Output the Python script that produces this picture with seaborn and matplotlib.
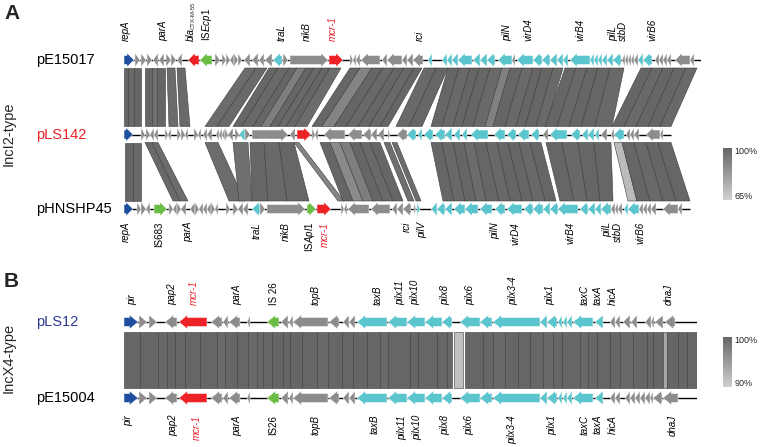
import numpy as np
import matplotlib
matplotlib.use("Agg")
import matplotlib.pyplot as plt
import seaborn as sns
from matplotlib.patches import Polygon
from matplotlib.collections import PolyCollection
from matplotlib.colors import Normalize
from matplotlib.transforms import blended_transform_factory

sns.set_theme(style="white")
plt.rcParams["font.family"] = ["Liberation Sans", "DejaVu Sans"]
plt.rcParams["mathtext.fontset"] = "custom"
plt.rcParams["mathtext.rm"] = "Liberation Sans"
plt.rcParams["mathtext.it"] = "Liberation Sans:italic"

# ---------------- data (positions in kb) ----------------
# genes: (start, end, strand, class)
pE15017_len = 57.7
pE15017_genes = [
    (0.0, 1.0, 1, "rep"), (1.1, 1.6, 1, "grey"), (1.7, 2.2, 1, "grey"), (2.3, 2.8, 1, "grey"),
    (2.9, 3.4, -1, "grey"), (3.5, 4.0, -1, "grey"), (4.2, 4.7, 1, "grey"), (4.7, 5.2, 1, "grey"),
    (5.3, 5.8, -1, "grey"), (6.4, 7.5, -1, "res"), (7.6, 8.8, -1, "is"), (9.1, 9.6, 1, "grey"),
    (9.8, 10.2, 1, "grey"), (10.2, 10.6, 1, "grey"), (10.6, 11.0, -1, "grey"), (11.0, 11.4, 1, "grey"),
    (11.4, 11.8, 1, "grey"), (12.0, 12.6, -1, "grey"), (12.8, 13.4, -1, "grey"), (13.5, 14.0, -1, "grey"),
    (14.1, 14.8, -1, "grey"), (14.9, 15.8, -1, "tra"), (15.9, 16.4, 1, "grey"), (16.6, 20.4, 1, "grey"),
    (20.5, 21.9, 1, "res"), (22.6, 22.9, 1, "grey"), (22.9, 23.2, -1, "grey"), (23.2, 23.6, -1, "grey"),
    (23.7, 25.6, -1, "grey"), (25.8, 26.3, -1, "grey"), (26.3, 27.8, -1, "grey"), (27.8, 28.3, -1, "grey"),
    (28.3, 28.9, -1, "grey"), (28.9, 29.9, -1, "grey"), (30.4, 30.8, -1, "tra"),
    (31.8, 32.3, -1, "tra"), (32.3, 32.8, -1, "tra"), (32.8, 33.4, -1, "tra"), (33.4, 34.8, -1, "tra"),
    (34.9, 35.6, -1, "tra"), (35.6, 36.3, -1, "tra"), (36.3, 37.1, -1, "tra"), (37.4, 38.8, -1, "tra"),
    (38.8, 39.1, -1, "grey"), (39.3, 40.9, -1, "tra"), (40.9, 41.8, -1, "tra"), (41.8, 42.6, -1, "tra"),
    (42.6, 43.3, -1, "tra"), (43.3, 43.9, -1, "tra"), (43.9, 44.4, -1, "tra"), (44.6, 46.6, -1, "tra"),
    (46.6, 47.0, -1, "tra"), (47.0, 47.4, -1, "tra"), (47.4, 47.8, -1, "tra"), (47.8, 48.3, -1, "tra"),
    (48.3, 48.9, -1, "tra"), (48.9, 49.7, -1, "tra"), (49.8, 50.1, -1, "grey"), (50.1, 50.4, -1, "grey"),
    (50.4, 50.7, -1, "grey"), (50.7, 51.0, -1, "grey"), (51.0, 51.4, -1, "grey"), (51.4, 51.9, -1, "tra"),
    (51.9, 52.8, -1, "tra"), (53.1, 53.5, -1, "grey"), (53.5, 53.9, -1, "grey"), (53.9, 54.3, -1, "grey"),
    (54.3, 54.7, -1, "grey"), (55.1, 56.6, -1, "grey"), (56.6, 57.0, -1, "grey"),
]

pLS142_len = 54.7
pLS142_genes = [
    (0.0, 0.9, 1, "rep"), (1.7, 2.1, 1, "grey"), (2.2, 2.6, 1, "grey"), (2.6, 3.0, -1, "grey"),
    (3.0, 3.4, -1, "grey"), (4.1, 4.4, 1, "grey"), (4.4, 4.7, -1, "grey"), (5.3, 5.7, 1, "grey"),
    (5.7, 6.1, 1, "grey"), (6.1, 6.4, -1, "grey"), (7.0, 7.4, 1, "grey"), (7.4, 7.7, -1, "grey"),
    (7.9, 8.3, -1, "grey"), (8.3, 8.8, -1, "grey"), (9.2, 9.5, -1, "grey"), (9.5, 9.8, -1, "grey"),
    (9.8, 10.1, -1, "grey"), (10.1, 10.4, 1, "grey"), (10.4, 10.9, -1, "grey"), (11.1, 11.5, 1, "grey"),
    (11.5, 12.1, -1, "tra"), (12.1, 12.6, 1, "grey"), (12.8, 16.4, 1, "grey"), (16.6, 17.1, -1, "grey"),
    (17.3, 18.7, 1, "res"), (18.8, 19.1, 1, "grey"), (19.1, 19.4, -1, "grey"), (20.0, 22.1, -1, "grey"),
    (22.4, 23.8, -1, "grey"), (23.9, 24.7, -1, "grey"), (24.7, 25.3, -1, "grey"), (25.4, 26.0, -1, "grey"),
    (26.4, 26.6, 1, "grey"), (27.3, 28.3, -1, "grey"), (28.3, 29.2, -1, "tra"), (29.4, 29.8, -1, "tra"),
    (30.0, 30.9, -1, "tra"), (31.1, 32.1, -1, "tra"), (32.1, 32.8, -1, "tra"), (33.0, 33.6, -1, "tra"),
    (33.8, 34.3, -1, "tra"), (34.7, 36.4, -1, "tra"), (37.0, 38.1, -1, "tra"), (38.3, 39.2, -1, "tra"),
    (39.4, 40.5, -1, "tra"), (40.7, 41.5, -1, "tra"), (41.9, 42.4, -1, "grey"), (42.6, 44.3, -1, "tra"),
    (44.7, 45.6, -1, "tra"), (45.8, 46.4, -1, "tra"), (46.4, 47.0, -1, "tra"), (47.1, 47.5, -1, "tra"),
    (47.7, 48.3, -1, "grey"), (48.7, 49.0, -1, "grey"), (49.0, 50.0, -1, "tra"), (50.2, 50.6, -1, "grey"),
    (50.6, 51.0, -1, "grey"), (51.0, 51.5, -1, "grey"), (52.2, 53.6, -1, "grey"), (53.6, 53.9, -1, "grey"),
]

pHNSHP45_len = 56.6
pHNSHP45_genes = [
    (0.0, 0.9, 1, "rep"), (1.3, 1.7, 1, "grey"), (1.7, 2.2, 1, "grey"), (2.2, 2.6, -1, "grey"),
    (3.0, 4.3, 1, "is"), (4.5, 4.9, 1, "grey"), (4.9, 5.3, -1, "grey"), (5.3, 5.7, 1, "grey"),
    (5.7, 6.2, -1, "grey"), (6.6, 7.1, -1, "grey"), (7.1, 7.5, 1, "grey"), (7.5, 7.9, -1, "grey"),
    (7.9, 8.3, -1, "grey"), (8.3, 8.7, -1, "grey"), (8.7, 9.1, 1, "grey"), (9.1, 9.4, -1, "grey"),
    (10.2, 10.6, 1, "grey"), (10.9, 11.4, 1, "grey"), (11.4, 11.9, -1, "grey"), (11.9, 12.4, -1, "grey"),
    (12.8, 13.6, -1, "tra"), (13.6, 14.1, 1, "grey"), (14.3, 18.1, 1, "grey"), (18.3, 19.2, 1, "is"),
    (19.3, 20.7, 1, "res"), (21.7, 22.0, 1, "grey"), (22.0, 22.3, -1, "grey"), (22.4, 24.5, -1, "grey"),
    (24.7, 26.6, -1, "grey"), (26.8, 27.3, -1, "grey"), (27.3, 27.9, -1, "grey"), (27.9, 28.7, -1, "grey"),
    (29.0, 29.2, 1, "grey"), (29.3, 29.6, 1, "tra"), (30.7, 31.3, -1, "tra"), (31.3, 32.1, -1, "tra"),
    (32.1, 32.8, -1, "tra"), (33.0, 34.1, -1, "tra"), (34.1, 35.4, -1, "tra"), (35.6, 36.8, -1, "tra"),
    (37.1, 38.1, -1, "tra"), (38.3, 39.8, -1, "tra"), (40.0, 40.9, -1, "tra"), (40.9, 41.9, -1, "tra"),
    (41.9, 42.6, -1, "tra"), (42.6, 43.4, -1, "tra"), (43.4, 45.4, -1, "tra"), (45.6, 46.4, -1, "tra"),
    (46.4, 47.1, -1, "tra"), (47.1, 47.7, -1, "tra"), (47.7, 48.7, -1, "tra"), (48.7, 49.1, -1, "grey"),
    (49.1, 49.4, -1, "grey"), (49.4, 49.8, -1, "grey"), (50.0, 50.4, -1, "tra"), (50.4, 51.5, -1, "tra"),
    (51.5, 51.9, -1, "grey"), (51.9, 52.3, -1, "grey"), (52.3, 52.7, -1, "grey"), (52.7, 53.2, -1, "grey"),
    (53.9, 55.4, -1, "grey"), (55.4, 55.8, -1, "grey"),
]

# blast hits: (top start, top end, bottom start, bottom end, identity %)
hits_pE15017_pLS142 = [
    (0.0, 0.4, 0.0, 0.4, 100), (0.4, 1.0, 0.4, 1.0, 99), (1.0, 1.7, 1.0, 1.7, 100),
    (2.1, 2.8, 2.1, 2.8, 100), (2.8, 3.3, 2.8, 3.3, 97), (3.3, 4.1, 3.3, 4.1, 100),
    (4.3, 5.1, 4.5, 5.4, 98), (5.3, 6.1, 5.6, 6.6, 99),
    (12.1, 13.2, 8.1, 9.3, 98), (13.2, 14.3, 9.3, 10.5, 99),
    (14.5, 15.4, 10.9, 11.8, 100), (15.4, 16.5, 11.8, 12.9, 99), (16.5, 17.3, 12.9, 13.7, 100),
    (17.3, 18.2, 13.7, 14.6, 92), (18.2, 19.0, 14.6, 15.4, 100), (19.0, 19.8, 15.4, 16.2, 99),
    (19.8, 20.6, 16.2, 17.1, 100), (20.6, 21.7, 17.1, 18.3, 98),
    (22.6, 23.6, 18.8, 19.8, 100), (23.6, 24.8, 19.8, 21.0, 90), (24.8, 25.9, 21.0, 22.2, 100),
    (25.9, 27.0, 22.2, 23.4, 99), (27.0, 28.0, 23.4, 24.5, 100), (28.0, 29.0, 24.5, 25.6, 99),
    (29.0, 29.8, 25.6, 26.4, 100),
    (30.0, 31.2, 27.2, 28.5, 99), (31.2, 32.4, 28.5, 29.8, 100),
    (32.4, 33.5, 30.7, 31.8, 100), (33.5, 34.6, 31.8, 32.9, 99), (34.6, 35.5, 32.9, 33.8, 100),
    (35.5, 36.6, 33.8, 34.9, 100), (36.6, 37.8, 34.9, 36.1, 99), (37.8, 38.6, 36.1, 36.9, 91),
    (38.6, 39.8, 36.9, 38.1, 100), (39.8, 40.9, 38.1, 39.2, 99), (40.9, 41.8, 39.2, 40.1, 100),
    (41.8, 42.9, 40.1, 41.2, 100), (42.9, 43.9, 41.2, 42.2, 99),
    (44.1, 45.2, 42.1, 43.3, 100), (45.2, 46.3, 43.3, 44.5, 99), (46.3, 47.4, 44.5, 45.7, 100),
    (47.4, 48.6, 45.7, 47.1, 100), (48.6, 50.0, 47.1, 48.8, 99),
    (51.7, 52.8, 48.8, 50.0, 100), (52.8, 53.9, 50.0, 51.2, 99), (53.9, 55.0, 51.2, 52.4, 100),
    (55.0, 56.2, 52.4, 53.6, 100), (56.2, 57.3, 53.6, 54.7, 99),
]

hits_pLS142_pHNSHP45 = [
    (0.1, 0.9, 0.1, 0.9, 100), (0.9, 1.7, 0.9, 1.7, 99),
    (2.1, 2.8, 4.9, 5.6, 99), (2.8, 3.4, 5.6, 6.4, 98),
    (8.1, 9.4, 10.5, 12.1, 98), (10.9, 12.4, 11.5, 12.8, 97),
    (12.6, 14.0, 12.8, 14.4, 100), (14.0, 15.5, 14.4, 16.3, 99), (15.5, 17.0, 16.3, 18.5, 100),
    (17.0, 17.5, 21.4, 22.0, 90),
    (19.6, 20.6, 21.9, 22.9, 100), (20.6, 21.6, 22.9, 23.9, 88), (21.6, 22.6, 23.9, 24.9, 92),
    (22.6, 23.6, 24.9, 25.9, 100), (23.6, 24.6, 25.9, 26.9, 99), (24.6, 25.6, 26.9, 27.9, 100),
    (26.0, 26.6, 28.4, 29.0, 97), (26.8, 27.3, 29.2, 29.7, 98),
    (30.7, 31.8, 31.9, 33.0, 100), (31.8, 32.9, 33.0, 34.1, 99), (32.9, 34.0, 34.1, 35.2, 100),
    (34.0, 35.0, 35.2, 36.2, 98), (35.0, 36.2, 36.2, 37.5, 100), (36.2, 37.3, 37.5, 38.6, 99),
    (37.3, 38.4, 38.6, 39.8, 100), (38.4, 39.5, 39.8, 40.9, 100), (39.5, 40.6, 40.9, 42.1, 99),
    (40.6, 41.7, 42.1, 43.2, 100),
    (42.2, 43.8, 43.6, 45.0, 100), (43.8, 45.4, 45.0, 46.3, 99), (45.4, 47.0, 46.3, 47.6, 100),
    (47.0, 48.7, 47.6, 48.9, 100),
    (49.0, 49.8, 50.4, 51.3, 72),
    (49.8, 51.0, 51.3, 52.6, 100), (51.0, 52.2, 52.6, 53.9, 99), (52.2, 53.4, 53.9, 55.2, 100),
    (53.4, 54.7, 55.2, 56.6, 100),
]

# IncX4 plasmids
pLS12_len = 28.65
incx4_shared = [
    (0.0, 0.7, 1, "rep"), (0.75, 1.15, 1, "grey"), (1.25, 1.65, 1, "grey"), (2.05, 2.65, -1, "grey"),
    (2.75, 4.15, -1, "res"), (4.35, 4.9, -1, "grey"), (4.95, 5.2, -1, "grey"), (5.25, 5.8, -1, "grey"),
    (6.15, 6.3, -1, "grey"), (7.15, 7.75, -1, "is"), (7.85, 8.2, -1, "grey"), (8.25, 8.45, -1, "grey"),
    (8.45, 10.2, -1, "grey"), (10.25, 10.75, -1, "grey"), (10.95, 11.25, -1, "grey"), (11.25, 11.55, -1, "grey"),
    (11.65, 13.15, -1, "tra"), (13.2, 14.15, -1, "tra"), (14.15, 15.05, -1, "tra"), (15.05, 15.9, -1, "tra"),
    (15.9, 16.4, -1, "tra"), (16.8, 17.8, -1, "tra"), (17.8, 18.4, -1, "tra"), (18.45, 20.8, -1, "tra"),
    (20.8, 21.15, -1, "tra"), (21.15, 21.65, -1, "tra"), (21.7, 21.9, -1, "tra"), (21.95, 22.15, -1, "tra"),
    (22.15, 22.4, -1, "tra"), (22.45, 23.45, -1, "tra"), (23.55, 23.95, -1, "tra"),
]
pLS12_genes = incx4_shared + [
    (24.3, 24.55, -1, "grey"), (24.55, 24.8, -1, "grey"), (24.95, 25.3, -1, "grey"), (25.35, 25.65, -1, "grey"),
    (26.05, 26.35, -1, "grey"), (26.35, 26.5, -1, "grey"), (26.55, 26.95, -1, "grey"), (27.05, 27.55, -1, "grey"),
]
pE15004_len = 28.65
pE15004_genes = incx4_shared + [
    (24.3, 24.55, -1, "grey"), (24.55, 24.8, -1, "grey"), (25.05, 25.3, -1, "grey"), (25.3, 25.55, -1, "grey"),
    (25.55, 25.8, -1, "grey"), (25.8, 26.05, -1, "grey"), (26.05, 26.3, -1, "grey"), (26.3, 26.45, -1, "grey"),
    (26.45, 26.9, -1, "grey"), (26.95, 27.7, -1, "grey"),
]

# IncX4 hits are collinear: (start, end, identity %)
hits_pLS12_pE15004 = [
    (0.0, 0.8, 100), (0.8, 1.7, 100), (1.7, 2.15, 99.8), (2.15, 2.55, 100), (2.55, 3.05, 100),
    (3.05, 3.8, 100), (3.8, 4.65, 100), (4.65, 5.05, 99.7), (5.05, 5.65, 100), (5.65, 6.2, 100),
    (6.2, 6.65, 99.6), (6.65, 6.95, 99.8), (6.95, 7.4, 100), (7.4, 7.95, 100), (7.95, 8.3, 100),
    (8.3, 8.9, 100), (8.9, 9.65, 100), (9.65, 10.2, 99.8), (10.2, 10.9, 100), (10.9, 11.45, 100),
    (11.45, 12.15, 100), (12.15, 12.8, 100), (12.8, 13.2, 99.7), (13.2, 14.3, 100), (14.3, 14.7, 100),
    (14.7, 15.65, 100), (15.65, 16.15, 100), (16.15, 16.4, 99.8), (16.5, 16.95, 91.5),
    (17.05, 17.95, 100), (17.95, 18.45, 100), (18.45, 19.05, 99.8), (19.05, 19.7, 100), (19.7, 20.3, 100),
    (20.3, 20.95, 100), (20.95, 21.45, 99.7), (21.45, 21.9, 100), (21.9, 22.8, 100), (22.8, 23.2, 99.8),
    (23.2, 23.65, 100), (23.65, 24.3, 100), (24.3, 24.8, 100), (24.8, 25.45, 99.8), (25.45, 26.15, 100),
    (26.15, 26.45, 100), (26.45, 26.95, 100), (26.95, 27.15, 94), (27.15, 27.7, 100), (27.7, 28.15, 100),
    (28.15, 28.65, 100),
]

# gene labels: (name, position); "_" marks a subscript
labels_pE15017 = [
    ("repA", 0.2), ("parA", 3.9), ("bla_CTX-M-55", 6.7), (r"IS$\mathit{Ecp1}$", 8.3),
    ("traL", 15.8), ("nikB", 18.3), ("mcr-1", 20.9), ("rci", 29.6), ("pilN", 38.3), ("virD4", 40.4),
    ("virB4", 45.6), ("pilL", 48.9), ("stbD", 49.9), ("virB6", 52.8),
]
labels_pHNSHP45 = [
    ("repA", 0.2), ("IS683", 3.5), ("parA", 6.4), ("traL", 13.3), ("nikB", 16.2), (r"IS$\mathit{Apl1}$", 18.6),
    ("mcr-1", 20.1), ("rci", 28.3), ("pilV", 29.8), ("pilN", 37.1), ("virD4", 39.1), ("virB4", 44.6),
    ("pilL", 48.3), ("stbD", 49.4), ("virB6", 51.6),
]
labels_pLS12 = [
    ("pir", 0.4), ("pap2", 2.4), ("mcr-1", 3.5), ("parA", 5.65), ("IS 26", 7.5), ("topB", 9.6),
    ("taxB", 12.7), ("pilx11", 13.8), ("pilx10", 14.55), ("pilx8", 16.05), ("pilx6", 17.3),
    ("pilx3-4", 19.45), ("pilx1", 21.3), ("taxC", 23.05), ("taxA", 23.7), ("hicA", 24.45), ("dnaJ", 27.25),
]
labels_pE15004 = [
    ("pir", 0.2), ("pap2", 2.45), ("mcr-1", 3.65), ("parA", 5.65), ("IS26", 7.45), ("topB", 9.6),
    ("taxB", 12.55), ("pilx11", 13.9), ("pilx10", 14.65), ("pilx8", 16.05), ("pilx6", 17.25),
    ("pilx3-4", 19.4), ("pilx1", 21.4), ("taxC", 23.05), ("taxA", 23.7), ("hicA", 24.45), ("dnaJ", 27.45),
]

# ---------------- style ----------------
COLORS = {"rep": "#1f4e9e", "grey": "#8c8c8c", "res": "#ec2227", "is": "#6cbd45", "tra": "#5bc5cd"}
RED = "#ec2227"
NAVY = "#2b3990"
W, H = 760, 447
ident_cmap = sns.blend_palette(["#d0d0d0", "#666666"], as_cmap=True)


def draw_track(ax, genes, length, y, head, hh, bh):
    ax.plot([0, length], [y, y], color="black", lw=1.0, zorder=2, solid_capstyle="butt")
    for s, e, strand, kind in genes:
        L = e - s
        h = min(head, L)
        if strand > 0:
            tip, base, root = e, e - h, s
        else:
            tip, base, root = s, s + h, e
        if L <= head:
            pts = [(root, y - hh), (tip, y), (root, y + hh)]
        else:
            pts = [(root, y - bh), (base, y - bh), (base, y - hh), (tip, y),
                   (base, y + hh), (base, y + bh), (root, y + bh)]
        ax.add_patch(Polygon(pts, closed=True, fc=COLORS[kind], ec="white", lw=0.35, zorder=3))


def draw_hits(ax, hits, y0, y1, off, norm):
    polys = [[(t0, y0 + off), (t1, y0 + off), (b1, y1 - off), (b0, y1 - off)] for t0, t1, b0, b1, _ in hits]
    cols = [ident_cmap(norm(h[4])) for h in hits]
    ax.add_collection(PolyCollection(polys, facecolors=cols, edgecolors="#3d3d3d", linewidths=0.4, zorder=1))


def gene_labels(ax, labels, y, above):
    for name, x in labels:
        color = RED if name.startswith("mcr") else "black"
        style = "normal" if name.startswith("IS") else "italic"
        base, _, sub = name.partition("_")
        ax.text(x, y, base, rotation=90, ha="center", va="bottom" if above else "top",
                fontsize=7, style=style, color=color, clip_on=False)
        if sub:
            # subscript continues the rotated word, nudged to the right
            ax.annotate(sub, (x, y), xytext=(1.8, 8.6), textcoords="offset points", rotation=90,
                        ha="center", va="bottom", fontsize=4.3, annotation_clip=False)


def name_label(fig, ax, text, y, color="black"):
    tr = blended_transform_factory(fig.transFigure, ax.transData)
    ax.text(36 / W, y, text, transform=tr, ha="left", va="center", fontsize=10.5, color=color)


def id_bar(fig, box, norm, lo, hi):
    x0, y0, x1, y1 = box
    cax = fig.add_axes([x0 / W, 1 - y1 / H, (x1 - x0) / W, (y1 - y0) / H])
    cb = fig.colorbar(plt.cm.ScalarMappable(norm=norm, cmap=ident_cmap), cax=cax)
    cb.outline.set_visible(False)
    cb.set_ticks([])
    cax.text(1.25, 1.02, hi, transform=cax.transAxes, ha="left", va="top", fontsize=6.5)
    cax.text(1.25, -0.02, lo, transform=cax.transAxes, ha="left", va="bottom", fontsize=6.5)


fig = plt.figure(figsize=(W / 100, H / 100), dpi=100)

# ---------------- panel A ----------------
sp = 74.5  # px between tracks
axA = fig.add_axes([124 / W, (H - (60 + 2.2 * sp)) / H, 577 / W, 2.4 * sp / H])
axA.set_xlim(0, 57.7)
axA.set_ylim(2.2, -0.2)
axA.axis("off")
normA = Normalize(65, 100)
offA = 8 / sp
draw_hits(axA, hits_pE15017_pLS142, 0, 1, offA, normA)
draw_hits(axA, hits_pLS142_pHNSHP45, 1, 2, offA, normA)
for y, genes, length in [(0, pE15017_genes, pE15017_len), (1, pLS142_genes, pLS142_len),
                         (2, pHNSHP45_genes, pHNSHP45_len)]:
    draw_track(axA, genes, length, y, 0.7, 7 / sp, 4.5 / sp)
gene_labels(axA, labels_pE15017, -19 / sp, True)
gene_labels(axA, labels_pHNSHP45, 2 + 13 / sp, False)
name_label(fig, axA, "pE15017", 0)
name_label(fig, axA, "pLS142", 1, RED)
name_label(fig, axA, "pHNSHP45", 2)
id_bar(fig, (723, 148, 732, 200), normA, "65%", "100%")

# ---------------- panel B ----------------
spB = 76
axB = fig.add_axes([124 / W, (H - (322 + 1.2 * spB)) / H, 573 / W, 1.4 * spB / H])
axB.set_xlim(0, 28.65)
axB.set_ylim(1.2, -0.2)
axB.axis("off")
normB = Normalize(90, 100)
draw_hits(axB, [(s, e, s, e, p) for s, e, p in hits_pLS12_pE15004], 0, 1, 10 / spB, normB)
draw_track(axB, pLS12_genes, pLS12_len, 0, 0.42, 7 / spB, 4.5 / spB)
draw_track(axB, pE15004_genes, pE15004_len, 1, 0.42, 7 / spB, 4.5 / spB)
gene_labels(axB, labels_pLS12, -17 / spB, True)
gene_labels(axB, labels_pE15004, 1 + 17 / spB, False)
name_label(fig, axB, "pLS12", 0, NAVY)
name_label(fig, axB, "pE15004", 1)
id_bar(fig, (723, 337, 732, 387), normB, "90%", "100%")

# ---------------- panel letters ----------------
fig.text(4 / W, 1 - 4 / H, "A", fontsize=15, fontweight="bold", va="top", ha="left")
fig.text(4 / W, 1 - 272 / H, "B", fontsize=15, fontweight="bold", va="top", ha="left")
fig.text(9 / W, 1 - 134 / H, "IncI2-type", rotation=90, ha="center", va="center", fontsize=10.5)
fig.text(9 / W, 1 - 358 / H, "IncX4-type", rotation=90, ha="center", va="center", fontsize=10.5)

fig.savefig("out.png", dpi=100)
